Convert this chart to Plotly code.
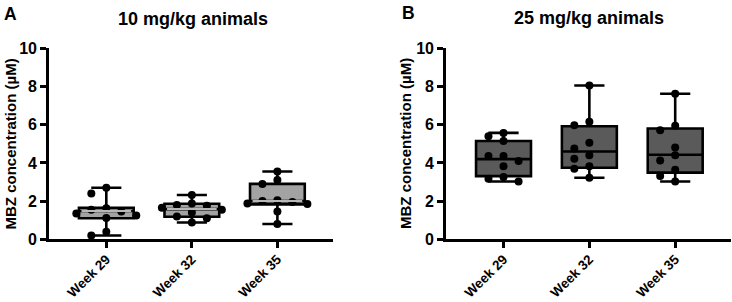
import plotly.graph_objects as go

W, H = 732, 302

weeks = ["Week 29", "Week 32", "Week 35"]
y_ticks = [0, 2, 4, 6, 8, 10]

# 10 mg/kg animals – individual values
low_w29 = [2.7, 2.4, 1.62, 1.55, 1.45, 1.35, 1.25, 1.12, 0.4, 0.2]
low_w32 = [2.32, 1.88, 1.8, 1.76, 1.65, 1.55, 1.4, 1.2, 1.1, 0.88]
low_w35 = [3.55, 3.1, 2.9, 2.05, 2.0, 1.95, 1.88, 1.85, 1.45, 0.8]
# box summaries as drawn (10 mg/kg)
low_q1 = [1.10, 1.18, 1.83]
low_med = [1.48, 1.58, 2.0]
low_q3 = [1.65, 1.86, 2.9]

# 25 mg/kg animals – individual values
high_w29 = [5.57, 5.39, 5.15, 4.36, 4.36, 4.1, 3.83, 3.26, 3.17, 3.03]
high_w32 = [8.05, 6.15, 5.97, 5.06, 4.75, 4.4, 4.22, 3.83, 3.7, 3.22]
high_w35 = [7.62, 5.94, 5.71, 4.8, 4.4, 4.13, 3.64, 3.31, 3.03]
# box summaries as drawn (25 mg/kg)
high_q1 = [3.31, 3.75, 3.49]
high_med = [4.2, 4.6, 4.43]
high_q3 = [5.15, 5.92, 5.8]

LOW_FILL = "#a3a3a3"
HIGH_FILL = "#5a5a5a"
BOX_W = 0.64
FONT = "Liberation Sans, Arial, sans-serif"

X_PX = 85.6   # px per category unit
Y_PX = 19.1   # px per value unit
DIAM = 8.0


def swarm(vals, step=15.0):
    placed, offs = [], []
    cands = [0.0]
    for i in range(1, 6):
        cands += [-i * step, i * step]
    for v in vals:
        chosen = cands[-1]
        for c in cands:
            if all((c - px) ** 2 + ((v - py) * Y_PX) ** 2 >= (DIAM * 0.95) ** 2
                   for px, py in placed):
                chosen = c
                break
        placed.append((chosen, v))
        offs.append(chosen / X_PX)
    return offs


fig = go.Figure()


def add_panel(groups, q1, med, q3, fill, xa, ya, gray_median):
    fig.add_trace(go.Box(
        x=[0, 1, 2], q1=q1, median=med, q3=q3,
        lowerfence=[min(g) for g in groups],
        upperfence=[max(g) for g in groups],
        width=BOX_W, whiskerwidth=0.55,
        fillcolor=fill, line=dict(color="black", width=2.6),
        boxpoints=False, xaxis=xa, yaxis=ya, hoverinfo="skip",
        showlegend=False,
    ))
    xs, ys = [], []
    for i, g in enumerate(groups):
        offs = swarm(g)
        xs += [i + o for o in offs]
        ys += list(g)
    fig.add_trace(go.Scatter(
        x=xs, y=ys, mode="markers",
        marker=dict(color="black", size=DIAM, line=dict(width=0)),
        xaxis=xa, yaxis=ya, showlegend=False, hoverinfo="skip",
        cliponaxis=False,
    ))
    if gray_median:
        mx, my = [], []
        hw = BOX_W / 2 - 0.03
        for i, m in enumerate(med):
            mx += [i - hw, i + hw, None]
            my += [m, m, None]
        fig.add_trace(go.Scatter(
            x=mx, y=my, mode="lines",
            line=dict(color="#b8b8b8", width=2),
            xaxis=xa, yaxis=ya, showlegend=False, hoverinfo="skip",
        ))


add_panel([low_w29, low_w32, low_w35], low_q1, low_med, low_q3,
          LOW_FILL, "x", "y", True)
add_panel([high_w29, high_w32, high_w35], high_q1, high_med, high_q3,
          HIGH_FILL, "x2", "y2", False)

xtickfont = dict(family=FONT, size=13.5, color="black", weight="bold")
ytickfont = dict(family=FONT, size=16, color="black", weight="bold")

xcommon = dict(
    tickmode="array", tickvals=[0, 1, 2], ticktext=weeks,
    tickangle=-45, range=[-0.67, 2.65], showline=True, linecolor="black",
    linewidth=2.6, ticks="outside", ticklen=6, tickwidth=2.6,
    tickcolor="black", showgrid=False, zeroline=False, tickfont=xtickfont,
    fixedrange=True, automargin=False, ticklabelstandoff=-2,
)
ycommon = dict(
    range=[0, 10], tickmode="array", tickvals=y_ticks,
    showline=True, linecolor="black", linewidth=2.6, ticks="outside",
    ticklen=6, tickwidth=2.6, tickcolor="black", showgrid=False,
    zeroline=False, tickfont=ytickfont, fixedrange=True, automargin=False,
)

ydom = [1 - 239.3 / H, 1 - 48.3 / H]

fig.update_layout(
    width=W, height=H,
    margin=dict(l=0, r=0, t=0, b=0, autoexpand=False),
    paper_bgcolor="white", plot_bgcolor="white",
    xaxis=dict(domain=[49 / W, 333 / W], anchor="y", **xcommon),
    yaxis=dict(domain=ydom, anchor="x", **ycommon),
    xaxis2=dict(domain=[446 / W, 731 / W], anchor="y2", **xcommon),
    yaxis2=dict(domain=ydom, anchor="x2", **ycommon),
    boxmode="overlay",
)

bold = dict(family=FONT, color="black", weight="bold")
annots = [
    dict(text="A", x=2 / W, y=1 - 2 / H, xanchor="left", yanchor="top",
         font=dict(size=17.5, **bold)),
    dict(text="B", x=400 / W, y=1 - 1 / H, xanchor="left", yanchor="top",
         font=dict(size=17.5, **bold)),
    dict(text="10 mg/kg animals", x=192.5 / W, y=1 - 18.5 / H,
         xanchor="center", yanchor="middle", font=dict(size=18, **bold)),
    dict(text="25 mg/kg animals", x=588.5 / W, y=1 - 18 / H,
         xanchor="center", yanchor="middle", font=dict(size=18, **bold)),
    dict(text="MBZ concentration (µM)", x=9.5 / W, y=1 - 144 / H,
         textangle=-90, xanchor="center", yanchor="middle",
         font=dict(size=15, **bold)),
    dict(text="MBZ concentration (µM)", x=405 / W, y=1 - 144 / H,
         textangle=-90, xanchor="center", yanchor="middle",
         font=dict(size=15, **bold)),
]
for a in annots:
    a.update(xref="paper", yref="paper", showarrow=False)
fig.update_layout(annotations=annots)

fig.write_html("out.html", config={"displayModeBar": False})
